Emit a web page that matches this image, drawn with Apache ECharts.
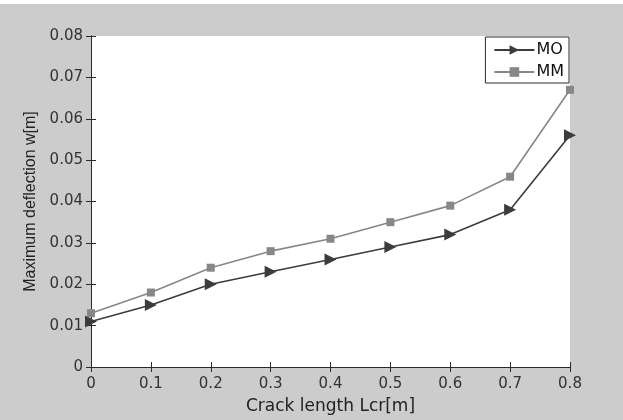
<!DOCTYPE html>
<html>
<head>
    <meta charset="utf-8">
    <title>Maximum deflection</title>
    <script src="https://cdn.jsdelivr.net/npm/echarts@6/dist/echarts.min.js"></script>
    <style>
        html, body { margin: 0; padding: 0; background: #cccccc; }
        #main { width: 623px; height: 420px; }
    </style>
</head>
<body>
<div id="main"></div>
<script>
    // data
    var crackLength = [0, 0.1, 0.2, 0.3, 0.4, 0.5, 0.6, 0.7, 0.8];
    var moValues = [0.011, 0.015, 0.020, 0.023, 0.026, 0.029, 0.032, 0.038, 0.056];
    var mmValues = [0.013, 0.018, 0.024, 0.028, 0.031, 0.035, 0.039, 0.046, 0.067];

    function pairs(xs, ys) {
        var out = [];
        for (var i = 0; i < xs.length; i++) out.push([xs[i], ys[i]]);
        return out;
    }

    var wideFont = 'DejaVu Sans, Liberation Sans, Arial';
    var lineColor = '#2a2a2a';

    var myChart = echarts.init(document.getElementById('main'));
    myChart.setOption({
        backgroundColor: '#cccccc',
        animation: false,
        graphic: [{
            type: 'rect', left: 0, top: 0, shape: { width: 623, height: 4 },
            style: { fill: '#ffffff' }
        }],
        grid: { left: 91, right: 53, top: 36, bottom: 53, show: true, backgroundColor: '#ffffff', borderWidth: 0 },
        legend: {
            orient: 'vertical',
            right: 54,
            top: 37,
            backgroundColor: '#ffffff',
            borderColor: lineColor,
            borderWidth: 1,
            borderRadius: 0,
            padding: [5, 5, 3, 8],
            itemGap: 6,
            itemWidth: 40,
            itemHeight: 12,
            textStyle: { fontFamily: wideFont, fontSize: 16, lineHeight: 16, color: '#111', padding: [0, 0, 0, -3] },
            data: ['MO', 'MM']
        },
        xAxis: [{
            type: 'value', min: 0, max: 0.8, interval: 0.1,
            name: 'Crack length Lcr[m]', nameLocation: 'middle', nameGap: 31,
            nameTextStyle: { fontFamily: wideFont, fontSize: 17, color: '#222' },
            axisLine: { lineStyle: { color: lineColor, width: 1 } },
            axisTick: { inside: true, length: 5, lineStyle: { color: lineColor } },
            axisLabel: { fontFamily: wideFont, fontSize: 15, color: '#333', margin: 10 },
            splitLine: { show: false }
        }, {
            type: 'value', min: 0, max: 0.8, interval: 0.1, position: 'top',
            axisLine: { lineStyle: { color: lineColor, width: 1 } },
            axisTick: { inside: true, length: 5, lineStyle: { color: lineColor } },
            axisLabel: { show: false },
            splitLine: { show: false }
        }],
        yAxis: [{
            type: 'value', min: 0, max: 0.08, interval: 0.01,
            name: 'Maximum deflection w[m]', nameLocation: 'middle', nameGap: 42,
            nameTextStyle: { fontFamily: 'Liberation Sans, Arial', fontSize: 16, color: '#222' },
            axisLine: { show: true, lineStyle: { color: lineColor, width: 1 } },
            axisTick: { show: true, inside: true, length: 5, lineStyle: { color: lineColor } },
            axisLabel: { fontFamily: wideFont, fontSize: 15, color: '#333', margin: 8 },
            splitLine: { show: false }
        }, {
            type: 'value', min: 0, max: 0.08, interval: 0.01, position: 'right',
            axisLine: { show: true, lineStyle: { color: lineColor, width: 1 } },
            axisTick: { show: true, inside: true, length: 5, lineStyle: { color: lineColor } },
            axisLabel: { show: false },
            splitLine: { show: false }
        }],
        series: [{
            name: 'MO', type: 'line',
            data: pairs(crackLength, moValues),
            symbol: 'triangle', symbolSize: 12, symbolRotate: -90,
            lineStyle: { color: '#3c3c3c', width: 1.6 },
            itemStyle: { color: '#3c3c3c' }
        }, {
            name: 'MM', type: 'line',
            data: pairs(crackLength, mmValues),
            symbol: 'rect', symbolSize: 8,
            lineStyle: { color: '#878787', width: 1.6 },
            itemStyle: { color: '#878787' }
        }]
    });
</script>
</body>
</html>
